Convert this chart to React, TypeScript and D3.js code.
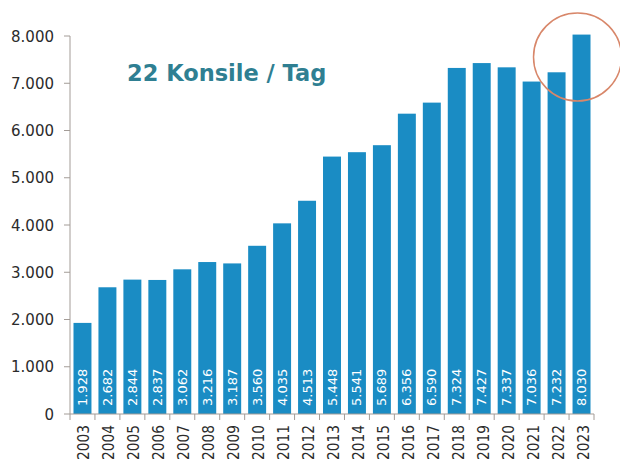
import React from "react";
import * as d3 from "d3";

const years = ["2003","2004","2005","2006","2007","2008","2009","2010","2011","2012","2013","2014","2015","2016","2017","2018","2019","2020","2021","2022","2023"];
const values = [1928,2682,2844,2837,3062,3216,3187,3560,4035,4513,5448,5541,5689,6356,6590,7324,7427,7337,7036,7232,8030];
const yTicks = [0,1000,2000,3000,4000,5000,6000,7000,8000];
const title = "22 Konsile / Tag";

const W = 620, H = 461;
const left = 70, right = 594, top = 36, bottom = 414;
const font = "'DejaVu Sans', sans-serif";
const barColor = "#1a8cc4";
const axisColor = "#a39c97";

const locale = d3.formatLocale({ decimal: ",", thousands: ".", grouping: [3], currency: ["", "€"] });
const fmt = locale.format(",d");

export default function App() {
  const x = d3.scaleBand<string>().domain(years).range([left, right]).paddingInner(0.28).paddingOuter(0.14);
  const y = d3.scaleLinear().domain([0, 8000]).range([bottom, top]);
  const step = x.step();
  const boundaries = d3.range(years.length + 1).map(i => left + i * step);
  const lastX = (x(years[years.length - 1]) ?? 0) + x.bandwidth() / 2;
  return (
    <svg width={W} height={H} style={{ position: "absolute", left: 0, top: 0, background: "#fff" }}>
      {years.map((yr, i) => (
        <rect key={yr} x={x(yr)} y={y(values[i])} width={x.bandwidth()} height={bottom - y(values[i])} fill={barColor} />
      ))}
      {years.map((yr, i) => {
        const cx = (x(yr) ?? 0) + x.bandwidth() / 2;
        const by = bottom - 8;
        return (
          <text key={"v" + yr} transform={`translate(${cx + 4.5},${by}) rotate(-90)`} fill="#fff" fontFamily={font} fontSize={13} textAnchor="start">
            {fmt(values[i])}
          </text>
        );
      })}
      <line x1={left} x2={left} y1={y(8000)} y2={bottom} stroke={axisColor} strokeWidth={1} />
      {yTicks.map(t => (
        <g key={t}>
          <line x1={left - 6} x2={left} y1={y(t)} y2={y(t)} stroke={axisColor} />
          <text x={left - 16} y={y(t) + 5.5} textAnchor="end" fontFamily={font} fontSize={15} fill="#2b2b2b">{fmt(t)}</text>
        </g>
      ))}
      <line x1={left} x2={right} y1={bottom} y2={bottom} stroke={axisColor} />
      {boundaries.map((b, i) => (
        <line key={"b" + i} x1={b} x2={b} y1={bottom} y2={bottom + 6} stroke={axisColor} />
      ))}
      {years.map(yr => {
        const cx = (x(yr) ?? 0) + x.bandwidth() / 2;
        return (
          <text key={"y" + yr} transform={`translate(${cx + 7},${bottom + 11}) rotate(-90)`} textAnchor="end" fontFamily={font} fontSize={16} textLength={35} lengthAdjust="spacingAndGlyphs" fill="#2b2b2b">
            {yr}
          </text>
        );
      })}
      <text x={127} y={81} fontFamily={font} fontSize={22.5} fontWeight="bold" fill="#2f7f92">{title}</text>
      <circle cx={lastX - 4} cy={57} r={44} fill="none" stroke="#d8876a" strokeWidth={1.5} />
    </svg>
  );
}
